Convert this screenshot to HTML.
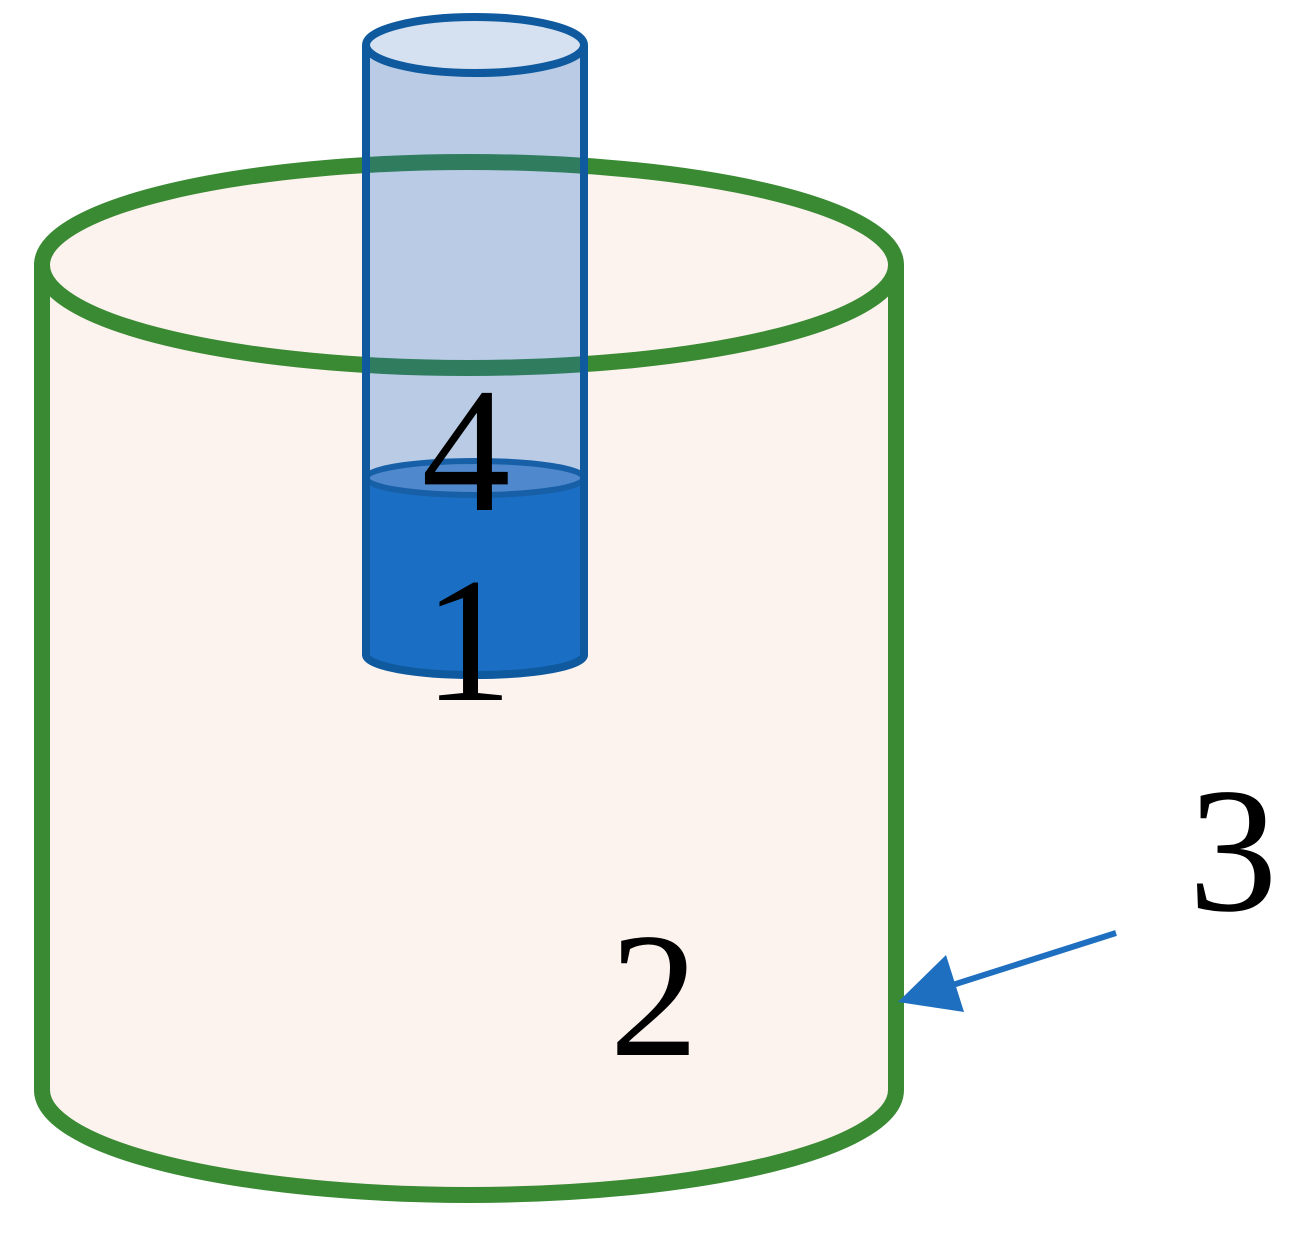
<!DOCTYPE html>
<html><head><meta charset="utf-8"><style>html,body{margin:0;padding:0;background:#fff}</style></head>
<body>
<svg width="1300" height="1230" viewBox="0 0 1300 1230" xmlns="http://www.w3.org/2000/svg">
<defs>
<clipPath id="tc"><rect x="369" y="0" width="212" height="500"/></clipPath>
</defs>
<!-- big cylinder -->
<path d="M42 265 L42 1090 A428 105 0 0 0 896 1090 L896 265 Z" fill="#fdf3ee"/>
<ellipse cx="469" cy="265" rx="427" ry="103" fill="#fdf3ee" stroke="#3a8a34" stroke-width="16"/>
<path d="M42 265 L42 1090 A427 105 0 0 0 896 1090 L896 265" fill="none" stroke="#3a8a34" stroke-width="16"/>
<!-- tube -->
<g>
<path d="M366 45 L366 655 A109 20 0 0 0 584 655 L584 45 Z" fill="#b9cbe5"/>
<ellipse cx="469" cy="265" rx="427" ry="103" fill="none" stroke="#2f7d5e" stroke-width="16" clip-path="url(#tc)"/>
<path d="M366 478 L366 655 A109 20 0 0 0 584 655 L584 478 Z" fill="#1a6fc4"/>
<ellipse cx="475" cy="478" rx="109" ry="17" fill="#4f88cc" stroke="#1760a8" stroke-width="6"/>
<path d="M366 45 L366 655 A109 20 0 0 0 584 655 L584 45" fill="none" stroke="#0f5a9e" stroke-width="8"/>
<ellipse cx="475" cy="45" rx="109" ry="28" fill="#d5e0f0" stroke="#0f5a9e" stroke-width="8"/>
</g>
<!-- arrow -->
<line x1="1116" y1="933" x2="940" y2="989" stroke="#1f6fc0" stroke-width="6"/>
<polygon points="898,1002 946,955 964,1012" fill="#1f6fc0"/>
<g font-family="'Liberation Serif', serif" font-size="178" fill="#000" text-anchor="middle">
<text x="466" y="510">4</text>
<text x="468" y="700">1</text>
<text x="654" y="1055">2</text>
<text x="1233" y="910">3</text>
</g>
</svg>
</body></html>
